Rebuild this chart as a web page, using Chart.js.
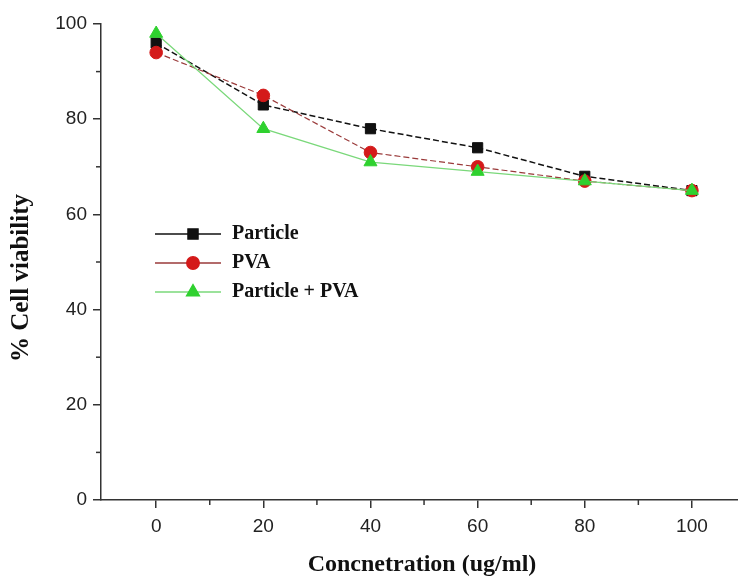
<!DOCTYPE html>
<html>
<head>
<meta charset="utf-8">
<script src="https://cdn.jsdelivr.net/npm/chart.js@4.4.1/dist/chart.umd.min.js"></script>
<style>
  html, body { margin: 0; padding: 0; background: #fff; }
  #wrap { width: 738px; height: 580px; position: relative; }
</style>
</head>
<body>
<div id="wrap"><canvas id="chart"></canvas></div>
<script>
// concentration (ug/ml)
const concentrations = [0, 20, 40, 60, 80, 100]
const particle = [96, 83, 78, 74, 68, 65]
const pva = [94, 85, 73, 70, 67, 65]
const particlePva = [98, 78, 71, 69, 67, 65]

const xTicks = [0, 20, 40, 60, 80, 100]
const xMinorTicks = [10, 30, 50, 70, 90]
const yTicks = [0, 20, 40, 60, 80, 100]
const yMinorTicks = [10, 30, 50, 70, 90]

const AXIS = '#333'
const SERIF = '"Liberation Serif", "Times New Roman", serif'
const SANS = '"Liberation Sans", Arial, sans-serif'
const toPoints = (ys) => concentrations.map((x, i) => ({ x, y: ys[i] }))

const series = [
  { label: 'Particle', data: particle, color: '#111', dash: [6, 3], width: 1.5, style: 'rect', radius: 7.2, order: 2 },
  { label: 'PVA', data: pva, color: '#d41a1a', line: '#9a3a3a', dash: [6, 3], width: 1.2, style: 'circle', radius: 6.3, order: 1 },
  { label: 'Particle + PVA', data: particlePva, color: '#2fd12f', line: '#7ad87a', dash: [], width: 1.3, style: 'triangle', radius: 7.5, order: 0 },
]

// minor ticks, axis titles and the inset legend
const extras = {
  id: 'extras',
  afterDraw(chart) {
    const { ctx, chartArea, scales: { x, y } } = chart
    ctx.save()
    ctx.strokeStyle = AXIS
    ctx.lineWidth = 1.5
    xMinorTicks.forEach((v) => {
      const px = x.getPixelForValue(v)
      ctx.beginPath()
      ctx.moveTo(px, chartArea.bottom)
      ctx.lineTo(px, chartArea.bottom + 5)
      ctx.stroke()
    })
    yMinorTicks.forEach((v) => {
      const py = y.getPixelForValue(v)
      ctx.beginPath()
      ctx.moveTo(chartArea.left, py)
      ctx.lineTo(chartArea.left - 5, py)
      ctx.stroke()
    })

    ctx.fillStyle = '#111'
    ctx.textAlign = 'center'
    ctx.textBaseline = 'middle'
    ctx.font = `bold 24px ${SERIF}`
    ctx.fillText('Concnetration (ug/ml)', 422, 565)

    ctx.font = `bold 25px ${SERIF}`
    ctx.translate(22, 278)
    ctx.rotate(-Math.PI / 2)
    ctx.fillText('% Cell viability', 0, 0)
    ctx.restore()

    // legend
    ctx.save()
    const lx = chartArea.left + 54
    let ly = 234
    series.forEach((s) => {
      ctx.strokeStyle = s.line || s.color
      ctx.lineWidth = 1.3
      ctx.setLineDash([])
      ctx.beginPath()
      ctx.moveTo(lx, ly)
      ctx.lineTo(lx + 66, ly)
      ctx.stroke()
      ctx.fillStyle = s.color
      ctx.strokeStyle = s.color
      Chart.helpers.drawPoint(ctx, { pointStyle: s.style, radius: s.radius, rotation: 0, borderWidth: 1 }, lx + 38, ly)
      ctx.fillStyle = '#111'
      ctx.font = `bold 20px ${SERIF}`
      ctx.textAlign = 'left'
      ctx.textBaseline = 'middle'
      ctx.fillText(s.label, lx + 77, ly)
      ly += 29
    })
    ctx.restore()
  },
}

new Chart(document.getElementById('chart'), {
  type: 'line',
  data: {
    datasets: series.map((s) => ({
      label: s.label,
      data: toPoints(s.data),
      order: s.order,
      borderColor: s.line || s.color,
      borderWidth: s.width,
      borderDash: s.dash,
      pointStyle: s.style,
      pointRadius: s.radius,
      pointBackgroundColor: s.color,
      pointBorderColor: s.color,
      pointBorderWidth: 1,
      tension: 0,
    })),
  },
  options: {
    responsive: true,
    maintainAspectRatio: false,
    animation: false,
    layout: { autoPadding: false, padding: { top: 24, right: 0, left: 0, bottom: 0 } },
    plugins: { legend: { display: false }, tooltip: { enabled: false } },
    scales: {
      x: {
        type: 'linear',
        min: -10.3,
        max: 108.6,
        afterBuildTicks: (scale) => { scale.ticks = xTicks.map((value) => ({ value })) },
        afterFit: (scale) => { scale.height = 80 },
        border: { display: true, color: AXIS, width: 1.5 },
        grid: { display: true, drawOnChartArea: false, drawTicks: true, tickLength: 8, color: AXIS, lineWidth: 1.5 },
        ticks: { color: '#222', padding: 7, font: { family: SANS, size: 19 } },
      },
      y: {
        min: 0,
        max: 100,
        afterBuildTicks: (scale) => { scale.ticks = yTicks.map((value) => ({ value })) },
        afterFit: (scale) => { scale.width = 101 },
        border: { display: true, color: AXIS, width: 1.5 },
        grid: { display: true, drawOnChartArea: false, drawTicks: true, tickLength: 8, color: AXIS, lineWidth: 1.5 },
        ticks: { color: '#222', padding: 6, font: { family: SANS, size: 19 } },
      },
    },
  },
  plugins: [extras],
})
</script>
</body>
</html>
